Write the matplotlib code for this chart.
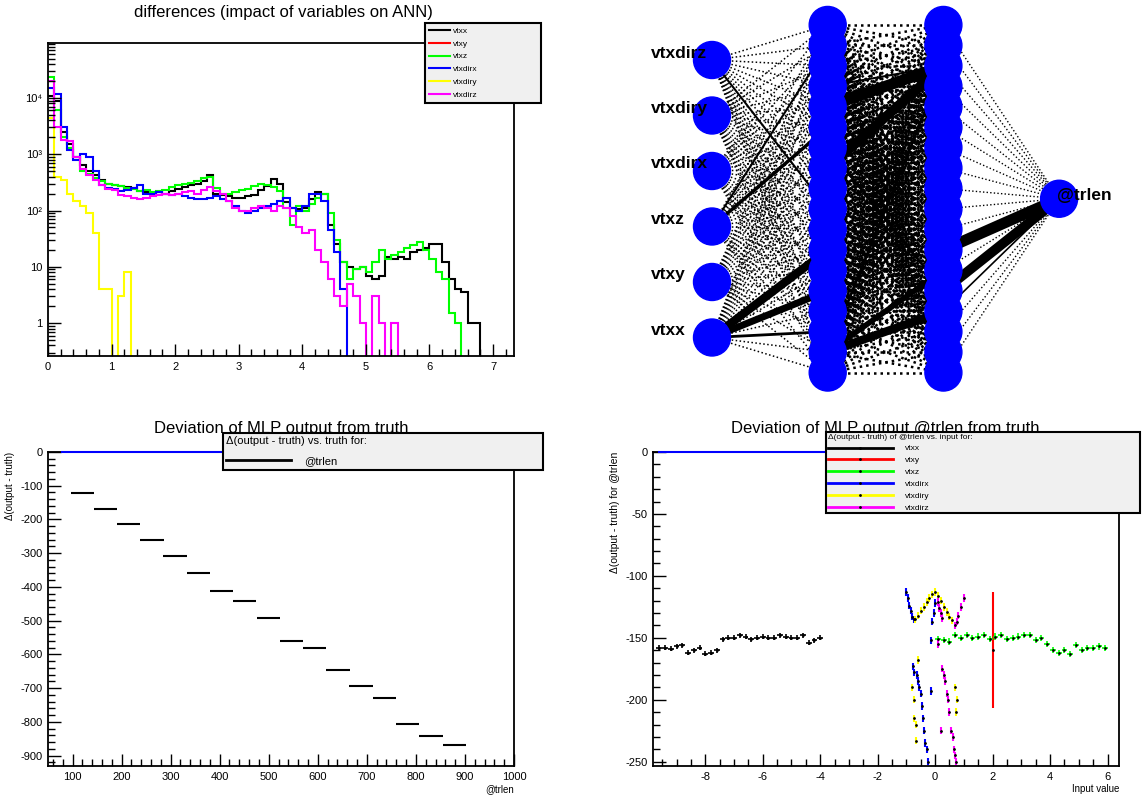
import numpy as np
import matplotlib.pyplot as plt
from matplotlib.patches import Circle
from matplotlib.lines import Line2D
from matplotlib.ticker import MultipleLocator, LogLocator, FuncFormatter, NullFormatter

plt.rcParams['font.family'] = ['Liberation Sans', 'DejaVu Sans']
plt.rcParams['axes.unicode_minus'] = False

W, H = 1144, 799

var_names = ['vtxx', 'vtxy', 'vtxz', 'vtxdirx', 'vtxdiry', 'vtxdirz']
var_colors = ['#000000', '#ff0000', '#00ff00', '#0000ff', '#ffff00', '#ff00ff']

# ---- differences histograms (bin width 0.1, starting at 0)
bin_width = 0.1
n_bins = 74
diff_vtxx = [11000, 9000, 2500, 1500, 900, 650, 500, 420, 350, 300,
             280, 270, 260, 250, 220, 210, 200, 210, 200, 220,
             240, 260, 280, 300, 340, 420, 200, 190, 180, 170,
             170, 180, 190, 230, 270, 360, 300, 140, 110, 105,
             110, 160, 210, 200, 55, 25, 12, 10, 9, 10,
             7, 6, 7, 15, 14, 15, 14, 18, 20, 22,
             25, 25, 12, 6, 4, 3.5, 1, 1]
diff_vtxy = [0]
diff_vtxz = [24000, 6000, 2000, 1300, 900, 500, 450, 380, 330, 300,
             280, 270, 250, 240, 220, 230, 210, 220, 230, 260,
             280, 300, 310, 340, 380, 400, 250, 200, 200, 210,
             230, 240, 270, 300, 290, 260, 220, 110, 55, 120,
             100, 130, 170, 200, 90, 30, 12, 6, 9, 10,
             8, 12, 20, 14, 16, 18, 22, 24, 28, 20,
             14, 8, 6, 1.5, 1]
diff_vtxdirx = [15000, 12000, 3000, 1200, 800, 1000, 900, 500, 280, 250,
                240, 220, 230, 250, 280, 200, 200, 210, 200, 190,
                200, 180, 170, 160, 160, 170, 180, 160, 150, 120,
                100, 90, 100, 110, 120, 130, 150, 170, 110, 100,
                120, 200, 200, 150, 45, 18, 4]
diff_vtxdiry = [4500, 400, 350, 200, 150, 120, 90, 40, 4, 4,
                0, 3, 8]
diff_vtxdirz = [20000, 3000, 1800, 1700, 900, 550, 420, 350, 280, 240,
                230, 190, 180, 170, 160, 170, 180, 190, 200, 190,
                200, 210, 220, 200, 230, 260, 220, 200, 150, 110,
                100, 100, 110, 120, 110, 100, 120, 110, 80, 50,
                40, 45, 20, 12, 6, 3, 2, 5, 3, 1,
                0, 3, 1, 0, 1]
diff_series = [diff_vtxx, diff_vtxy, diff_vtxz, diff_vtxdirx, diff_vtxdiry, diff_vtxdirz]

# ---- deviation vs truth
truth_centers = [120, 167, 214, 262, 309, 357, 404, 451, 499, 546, 594, 641, 688, 736, 783, 831, 878]
truth_halfwidth = 23.7
truth_dev = [-123, -169, -212, -262, -308, -360, -411, -441, -493, -559, -580, -646, -693, -728, -805, -842, -868]
truth_dev_err = [1, 1, 1, 1, 3, 1, 1, 1, 3, 1, 3, 3, 3, 3, 1, 3, 3]
truth_range = (78, 1000)

# ---- deviation vs input
in_vtxx_x = [-9.6, -9.4, -9.2, -9.0, -8.8, -8.6, -8.4, -8.2, -8.0, -7.8, -7.6, -7.4, -7.2, -7.0, -6.8,
             -6.6, -6.4, -6.2, -6.0, -5.8, -5.6, -5.4, -5.2, -5.0, -4.8, -4.6, -4.4, -4.2, -4.0]
in_vtxx_y = [-158, -158, -159, -157, -156, -162, -160, -158, -163, -162, -160, -151, -150, -150, -148,
             -149, -151, -150, -149, -150, -150, -148, -149, -150, -150, -148, -154, -152, -150]
in_vtxy_x = [2.0]
in_vtxy_y = [-160]
in_vtxy_err = [47]
in_vtxz_x = [0.1, 0.3, 0.5, 0.7, 0.9, 1.1, 1.3, 1.5, 1.7, 1.9, 2.1, 2.3, 2.5, 2.7, 2.9,
             3.1, 3.3, 3.5, 3.7, 3.9, 4.1, 4.3, 4.5, 4.7, 4.9, 5.1, 5.3, 5.5, 5.7, 5.9]
in_vtxz_y = [-151, -152, -153, -148, -150, -148, -150, -149, -148, -151, -149, -148, -151, -150, -149,
             -148, -148, -152, -150, -155, -160, -162, -160, -163, -156, -160, -158, -158, -157, -158]
in_vtxdirx_x = [-1.0, -0.95, -0.9, -0.85, -0.8, -0.75, -0.1, -0.05, 0.0,
                -0.78, -0.72, -0.62, -0.58, -0.55, -0.48, -0.45, -0.42, -0.38, -0.35, -0.3, -0.25,
                -0.15, -0.15]
in_vtxdirx_y = [-113, -118, -124, -128, -133, -135, -137, -130, -122,
                -173, -178, -180, -185, -190, -195, -205, -215, -225, -235, -240, -250,
                -193, -152]
in_vtxdiry_x = [-0.7, -0.6, -0.5, -0.4, -0.3, -0.2, -0.1, 0.0, 0.1, 0.2, 0.3, 0.4, 0.5, 0.6,
                -0.82, -0.75, -0.72, -0.68, -0.65, -0.6, 0.7, 0.75, 0.72]
in_vtxdiry_y = [-135, -132, -128, -125, -121, -118, -115, -113, -116, -120, -125, -129, -133, -136,
                -190, -200, -215, -220, -233, -168, -190, -200, -210]
in_vtxdirz_x = [0.1, 0.15, 0.2, 0.25, 0.7, 0.75, 0.8, 0.9, 1.0,
                0.25, 0.3, 0.35, 0.4, 0.45, 0.5, 0.55, 0.62, 0.65, 0.7, 0.72, 0.2, 0.1]
in_vtxdirz_y = [-121, -126, -130, -134, -140, -137, -132, -125, -118,
                -175, -180, -185, -195, -200, -210, -225, -230, -240, -245, -250, -225, -155]

# ---- network
input_labels = ['vtxdirz', 'vtxdiry', 'vtxdirx', 'vtxz', 'vtxy', 'vtxx']
output_labels = ['@trlen']
layer_sizes = [6, 18, 18, 1]
# (from, to, width) of the strongest synapses, per layer gap; nodes indexed top to bottom
strong_in_h1 = [(5, 11, 6.0), (5, 13, 5.0), (5, 15, 2.0), (3, 1, 1.5), (3, 5, 2.5), (0, 9, 1.5)]
strong_h1_h2 = [(4, 2, 8.0), (7, 2, 7.0), (3, 2, 1.5), (16, 14, 6.0), (16, 12, 4.0),
                (16, 2, 2.0), (6, 13, 2.0)]
strong_h2_out = [(11, 0, 8.0), (13, 0, 7.0), (14, 0, 1.2)]
strong_links = [strong_in_h1, strong_h1_h2, strong_h2_out]
weak_width = [1.1, 1.8, 1.0]

fig = plt.figure(figsize=(W / 100, H / 100), dpi=100, facecolor='w')


def frac(l, t, r, b):
    return [l / W, 1 - b / H, (r - l) / W, (b - t) / H]


def root_style(ax):
    ax.tick_params(which='both', direction='in', top=False, right=False, labelsize=8, pad=4)
    ax.tick_params(which='major', length=9, width=1)
    ax.tick_params(which='minor', length=5, width=1)
    for s in ax.spines.values():
        s.set_linewidth(1.3)


def root_legend(handles, labels, box, **kw):
    leg = fig.legend(handles, labels, loc='upper left', bbox_to_anchor=frac(*box), mode='expand',
                     borderaxespad=0, fancybox=False, facecolor='#f0f0f0', edgecolor='black',
                     framealpha=1, **kw)
    leg.get_frame().set_linewidth(1.5)
    return leg


# top left: differences
ax1 = fig.add_axes(frac(48, 43, 514, 356))
root_style(ax1)
edges = np.arange(n_bins + 1) * bin_width
for vals, name, col in zip(diff_series, var_names, var_colors):
    v = np.zeros(n_bins)
    v[:len(vals)] = vals
    v[v <= 0] = 1e-3
    ax1.stairs(v, edges, baseline=None, color=col, lw=1.5, label=name)
ax1.set_yscale('log')
ax1.set_xlim(0, 7.33)
ax1.set_ylim(0.26, 9.5e4)
ax1.xaxis.set_major_locator(MultipleLocator(1))
ax1.xaxis.set_minor_locator(MultipleLocator(0.2))
ax1.yaxis.set_major_locator(LogLocator(base=10, numticks=10))
ax1.yaxis.set_minor_locator(LogLocator(base=10, subs=np.arange(2, 10), numticks=20))
ax1.yaxis.set_minor_formatter(NullFormatter())
sup = {2: '\u00b2', 3: '\u00b3', 4: '\u2074', 5: '\u2075'}
ax1.yaxis.set_major_formatter(FuncFormatter(
    lambda v, p: '1' if v == 1 else ('10' if v == 10 else '10' + sup.get(int(round(np.log10(v))), ''))))
fig.text(283 / W, 1 - 13 / H, 'differences (impact of variables on ANN)', ha='center', va='center', fontsize=12)
root_legend([Line2D([], [], color=c, lw=1.5) for c in var_colors], var_names, (425, 23, 541, 101),
            fontsize=6, labelspacing=0.6, handlelength=2.5, handletextpad=0.4, borderpad=0.48)

# top right: network
ax2 = fig.add_axes(frac(572, 0, 1144, 399))
ax2.set_xlim(572, 1144)
ax2.set_ylim(399, 0)
ax2.axis('off')
pad_top, pad_h = 4.5, 388.5
layer_x = 712 + 115.7 * np.arange(len(layer_sizes))
node_y = [pad_top + (np.arange(n) + 1) * pad_h / (n + 1) for n in layer_sizes]
for g in range(len(layer_sizes) - 1):
    strong = {(a, b): w for a, b, w in strong_links[g]}
    for a in range(layer_sizes[g]):
        for b in range(layer_sizes[g + 1]):
            xs = [layer_x[g], layer_x[g + 1]]
            ys = [node_y[g][a], node_y[g + 1][b]]
            if (a, b) in strong:
                ax2.plot(xs, ys, color='k', lw=strong[(a, b)], solid_capstyle='butt', zorder=2)
            else:
                ax2.plot(xs, ys, color='k', lw=weak_width[g], ls=(0, (1, 1.6)), zorder=1)
for g, n in enumerate(layer_sizes):
    for k in range(n):
        ax2.add_patch(Circle((layer_x[g], node_y[g][k]), 18.5, color='#0000ff', zorder=3))
for k, name in enumerate(input_labels):
    ax2.text(651, node_y[0][k] - 7, name, fontsize=12.5, fontweight='bold', va='center', ha='left', zorder=4)
ax2.text(1057, node_y[3][0] - 3, output_labels[0], fontsize=12.5, fontweight='bold', va='center',
         ha='left', zorder=4)

# bottom left: deviation vs truth
ax3 = fig.add_axes(frac(48, 452, 514, 766))
root_style(ax3)
ax3.plot(truth_range, [0, 0], color='#0000ff', lw=1.5, zorder=3, clip_on=False)
ax3.errorbar(truth_centers, truth_dev, xerr=truth_halfwidth, yerr=truth_dev_err, fmt='none',
             ecolor='k', elinewidth=1.5, capsize=0)
ax3.set_xlim(50, 1000)
ax3.set_ylim(-931, 0)
ax3.xaxis.set_major_locator(MultipleLocator(100))
ax3.xaxis.set_minor_locator(MultipleLocator(20))
ax3.yaxis.set_major_locator(MultipleLocator(100))
ax3.yaxis.set_minor_locator(MultipleLocator(20))
ax3.set_xlabel('@trlen', loc='right', fontsize=7, labelpad=2)
ax3.set_ylabel('\u0394(output - truth)', loc='top', fontsize=7, labelpad=4)
fig.text(281 / W, 1 - 428 / H, 'Deviation of MLP output from truth', ha='center', va='center', fontsize=12)
root_legend([Line2D([], [], color='k', lw=2)], ['@trlen'], (223, 433, 543, 470),
            title='\u0394(output - truth) vs. truth for:', title_fontsize=8, alignment='left',
            fontsize=8, handlelength=5.8, handletextpad=1.2, borderpad=0.3, labelspacing=0.9)

# bottom right: deviation vs input
ax4 = fig.add_axes(frac(653, 452, 1119, 766))
root_style(ax4)
all_x = in_vtxx_x + in_vtxz_x
ax4.plot([min(all_x), max(all_x)], [0, 0], color='#0000ff', lw=1.5, zorder=3, clip_on=False)
ax4.errorbar(in_vtxx_x, in_vtxx_y, xerr=0.1, yerr=2, fmt='.', ms=2, color='k', elinewidth=1.2, capsize=0)
ax4.errorbar(in_vtxy_x, in_vtxy_y, yerr=in_vtxy_err, fmt='.', ms=2, color='#ff0000', mfc='k', mec='k',
             elinewidth=1.5, capsize=0)
ax4.errorbar(in_vtxz_x, in_vtxz_y, xerr=0.1, yerr=2.5, fmt='.', ms=2, color='#00ff00', mfc='k', mec='k',
             elinewidth=1.2, capsize=0)
for xs, ys, col in [(in_vtxdirx_x, in_vtxdirx_y, '#0000ff'), (in_vtxdiry_x, in_vtxdiry_y, '#ffff00'),
                    (in_vtxdirz_x, in_vtxdirz_y, '#ff00ff')]:
    ax4.errorbar(xs, ys, xerr=0.02, yerr=3, fmt='.', ms=2, color=col, mfc='k', mec='k',
                 elinewidth=1.5, capsize=0)
ax4.set_xlim(-9.82, 6.4)
ax4.set_ylim(-253.5, 0)
ax4.xaxis.set_major_locator(MultipleLocator(2))
ax4.xaxis.set_minor_locator(MultipleLocator(0.5))
ax4.yaxis.set_major_locator(MultipleLocator(50))
ax4.yaxis.set_minor_locator(MultipleLocator(10))
ax4.set_xlabel('Input value', loc='right', fontsize=7, labelpad=2)
ax4.set_ylabel('\u0394(output - truth) for @trlen', loc='top', fontsize=7.5, labelpad=4)
fig.text(885 / W, 1 - 428 / H, 'Deviation of MLP output @trlen from truth', ha='center', va='center', fontsize=12)
h4 = [Line2D([], [], color=c, lw=2, marker='.', ms=2, mfc='k', mec='k') for c in var_colors]
root_legend(h4, var_names, (826, 432, 1140, 512),
            title='\u0394(output - truth) of @trlen vs. input for:', title_fontsize=6, alignment='left',
            fontsize=6, numpoints=1, handlelength=7.8, handletextpad=1.45, borderpad=0.2, labelspacing=0.48)

fig.savefig('out.png', dpi=100, facecolor='w')
